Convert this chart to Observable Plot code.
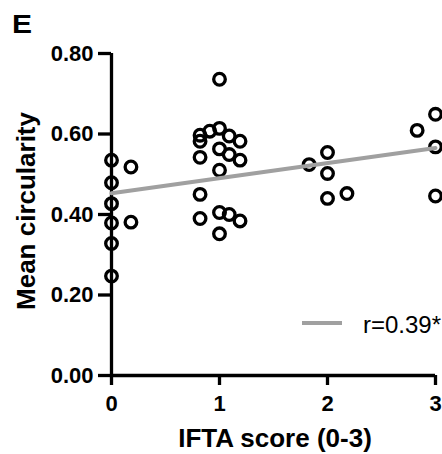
<!DOCTYPE html>
<html><head><meta charset="utf-8">
<script src="https://cdn.jsdelivr.net/npm/d3@7"></script>
<script src="https://cdn.jsdelivr.net/npm/@observablehq/plot@0.6"></script>
<style>body{margin:0;overflow:hidden;background:#fff}</style>
</head><body><div id="chart"></div>
<script>
// IFTA score (with horizontal scatter offsets as drawn) and mean circularity
const ifta = [0,0,0,0,0,0,0.18,0.18,
  1.0,0.82,0.82,0.91,1.0,1.09,1.19,1.0,1.09,1.19,0.82,1.0,0.82,0.82,1.0,1.09,1.19,1.0,
  1.83,2.0,2.0,2.0,2.18,
  2.83,3.0,3.0,3.0];
const circ = [0.535,0.479,0.427,0.379,0.328,0.247,0.518,0.381,
  0.736,0.597,0.582,0.607,0.614,0.595,0.582,0.563,0.549,0.535,0.542,0.510,0.450,0.390,0.405,0.400,0.384,0.352,
  0.524,0.554,0.502,0.440,0.452,
  0.609,0.649,0.568,0.446];
const fitX = [0, 3];
const fitY = [0.453, 0.565];
const xTicks = [0, 1, 2, 3];
const yTicks = [0, 0.2, 0.4, 0.6, 0.8];
const xTitle = "IFTA score (0-3)";
const yTitle = "Mean circularity";
const panelLabel = "E";
const legendLabel = "r=0.39*";

const points = ifta.map((x, i) => ({ifta: x, circ: circ[i]}));
const fit = fitX.map((x, i) => ({x, y: fitY[i]}));

const FONT = "'Liberation Sans', Arial, Helvetica, sans-serif";
const chart = Plot.plot({
  width: 442, height: 454,
  marginLeft: 111, marginRight: 7, marginTop: 53, marginBottom: 79,
  style: {fontFamily: FONT, background: "#fff", color: "#000"},
  x: {domain: [0, 3]},
  y: {domain: [0, 0.8]},
  marks: [
    Plot.axisY({ticks: yTicks, tickSize: 13, tickPadding: 5, strokeWidth: 3.3, fontSize: 22, fontWeight: "bold", tickFormat: d3.format(".2f"), label: null}),
    Plot.axisX({ticks: xTicks, tickSize: 10, tickPadding: 10, strokeWidth: 3.3, fontSize: 22, fontWeight: "bold", tickFormat: d3.format("d"), label: null}),
    Plot.ruleX([0], {strokeWidth: 3.3, stroke: "#000"}),
    Plot.ruleY([0], {strokeWidth: 3.3, stroke: "#000"}),
    Plot.dot(points, {x: "ifta", y: "circ", r: 5.8, stroke: "#000", strokeWidth: 3.3, fill: "none"}),
    Plot.line(fit, {x: "x", y: "y", stroke: "#a0a0a0", strokeWidth: 4})
  ]
});
document.getElementById("chart").append(chart);

const svg = d3.select(chart);
const txt = (s) => svg.append("text").text(s)
  .attr("font-family", FONT).attr("fill", "#000").attr("text-anchor", "start");
txt(panelLabel)
  .attr("x", 12).attr("y", 33)
  .attr("font-size", 26).attr("font-weight", "bold")
  .attr("textLength", 20).attr("lengthAdjust", "spacingAndGlyphs");
txt(xTitle)
  .attr("x", 275).attr("y", 447).attr("text-anchor", "middle")
  .attr("font-size", 26).attr("font-weight", "bold");
txt(yTitle)
  .attr("transform", "translate(35,211) rotate(-90)").attr("text-anchor", "middle")
  .attr("font-size", 26).attr("font-weight", "bold");
svg.append("line")
  .attr("x1", 302).attr("x2", 342).attr("y1", 323).attr("y2", 323)
  .attr("stroke", "#a0a0a0").attr("stroke-width", 4);
txt(legendLabel)
  .attr("x", 363).attr("y", 333)
  .attr("font-size", 24);
</script>
</body></html>
